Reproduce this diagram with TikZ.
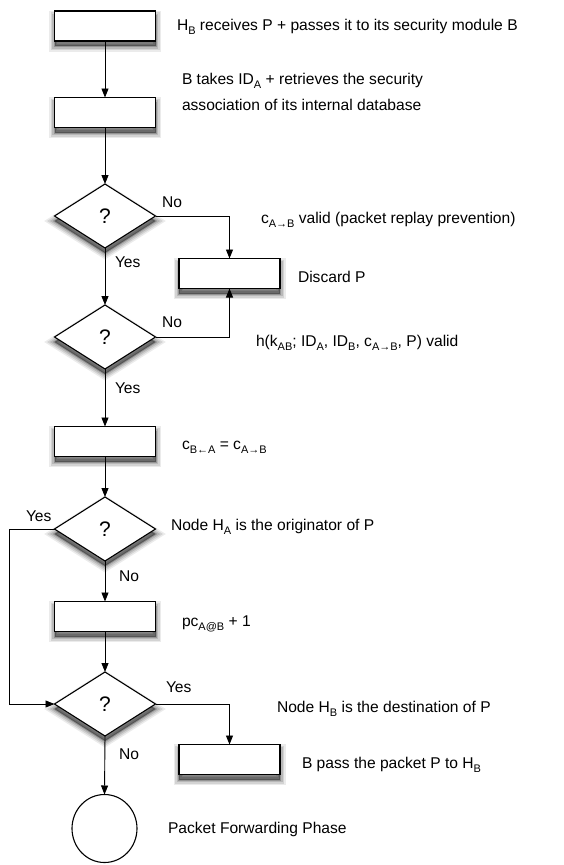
\documentclass[tikz,border=0pt]{standalone}
\usepackage{fontspec}
\setmainfont{Liberation Sans}
\usetikzlibrary{shapes.geometric,arrows.meta}
\newcommand\lowtxt[1]{\raisebox{-4pt}{\fontsize{11}{11}\selectfont #1}}
\begin{document}
\begin{tikzpicture}[x=1pt,y=-1pt,
  every node/.style={inner sep=0pt, outer sep=0pt},
  % soft drop shadow built from stacked translucent copies of the outline
  shade/.style={
    preaction={fill=black, draw=black, line width=11pt, opacity=0.08, transform canvas={yshift=-5pt}},
    preaction={fill=black, draw=black, line width=8pt, opacity=0.10, transform canvas={yshift=-5pt}},
    preaction={fill=black, draw=black, line width=5pt, opacity=0.13, transform canvas={yshift=-5pt}},
    preaction={fill=black, draw=black, line width=2pt, opacity=0.20, transform canvas={yshift=-5pt}}},
  stepbox/.style={shade, draw, line width=1.2pt, fill=white, minimum width=101pt, minimum height=30pt},
  query/.style={shade, draw, line width=1.1pt, fill=white, shape=diamond, minimum width=101pt, minimum height=64pt, font=\fontsize{21}{21}\selectfont},
  finish/.style={draw, line width=1.1pt, fill=white, shape=ellipse, minimum width=65pt, minimum height=68pt},
  txt/.style={anchor=base west, font=\fontsize{15.6}{26}\selectfont, align=left},
  arr/.style={line width=0.9pt, -{Triangle[length=9pt,width=7pt]}}
]
\useasboundingbox (0,0) rectangle (563,865);

% flow nodes
\node[stepbox] (b1) at (105,26) {};
\node[stepbox] (b2) at (105,112.5) {};
\node[query] (d1) at (105,216) {?};
\node[stepbox] (discard) at (229.5,273.5) {};
\node[query] (d2) at (105,337) {?};
\node[stepbox] (b3) at (105,441.5) {};
\node[query] (d3) at (105,529) {?};
\node[stepbox] (b4) at (105,616.5) {};
\node[query] (d4) at (105,704) {?};
\node[stepbox] (b5) at (229.5,759.5) {};
\node[finish] (end) at (104.5,828.5) {};
\coordinate (loop) at (9.5,529);

% connectors
\draw[arr] (b1.south) -- (b2.north);
\draw[arr] (b2.south) -- (d1.north);
\draw[arr] (d1.east) -| (discard.north);
\draw[arr] (d1.south) -- (d2.north);
\draw[arr] (d2.east) -| (discard.south);
\draw[arr] (d2.south) -- (b3.north);
\draw[arr] (b3.south) -- (d3.north);
\draw[arr] (d3.west) -- (loop) |- (d4.west);
\draw[arr] (d3.south) -- (b4.north);
\draw[arr] (b4.south) -- (d4.north);
\draw[arr] (d4.east) -| (b5.north);
\draw[arr] (d4.south) -- (end.north);

% branch labels
\node[txt] (n1) at (162,207) {No};
\node[txt] (y1) at (115,267) {Yes};
\node[txt] (n2) at (162,327) {No};
\node[txt] (y2) at (115,393) {Yes};
\node[txt] (y3) at (26,521) {Yes};
\node[txt] (n3) at (119,581) {No};
\node[txt] (y4) at (166,692) {Yes};
\node[txt] (n4) at (119,759) {No};

% descriptions
\node[txt] (t1) at (177,30) {H\lowtxt{B} receives P + passes it to its security module B};
\node[txt] (t2) at (182,110) {B takes ID\lowtxt{A} + retrieves the security\\association of its internal database};
\node[txt] (t3) at (261,223) {c\lowtxt{A→B} valid (packet replay prevention)};
\node[txt] (t4) at (298,282) {Discard P};
\node[txt] (t5) at (256,346) {h(k\lowtxt{AB}; ID\lowtxt{A}, ID\lowtxt{B}, c\lowtxt{A→B}, P) valid};
\node[txt] (t6) at (182,449) {c\lowtxt{B←A} = c\lowtxt{A→B}};
\node[txt] (t7) at (171,530) {Node H\lowtxt{A} is the originator of P};
\node[txt] (t8) at (182,626) {pc\lowtxt{A@B} + 1};
\node[txt] (t9) at (277,712) {Node H\lowtxt{B} is the destination of P};
\node[txt] (t10) at (302,768) {B pass the packet P to H\lowtxt{B}};
\node[txt] (t11) at (168,833) {Packet Forwarding Phase};
\end{tikzpicture}
\end{document}
